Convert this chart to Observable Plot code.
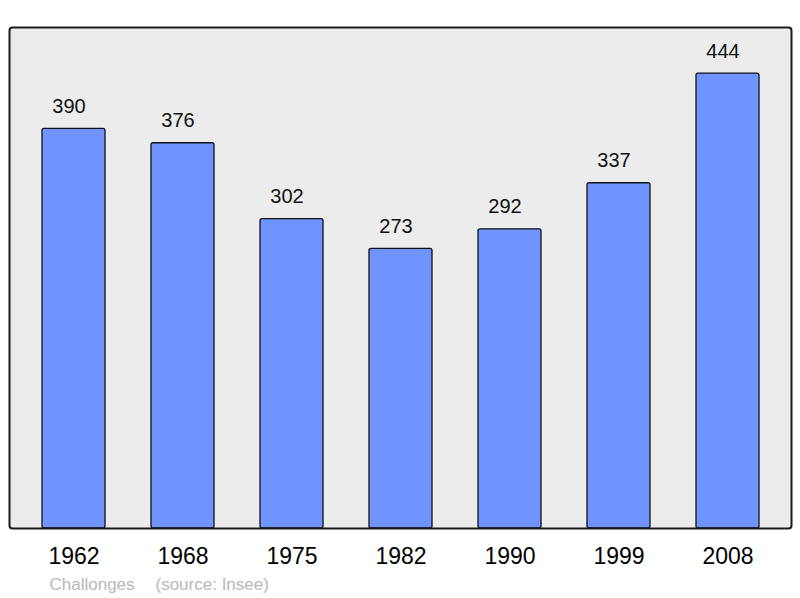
<!DOCTYPE html>
<html>
<head>
<meta charset="utf-8">
<script src="https://cdn.jsdelivr.net/npm/d3@7"></script>
<script src="https://cdn.jsdelivr.net/npm/@observablehq/plot@0.6"></script>
<style>
  html, body { margin: 0; padding: 0; background: #ffffff; }
</style>
</head>
<body>
<div id="chart"></div>
<script>
const years = ["1962", "1968", "1975", "1982", "1990", "1999", "2008"];
const population = [390, 376, 302, 273, 292, 337, 444];
const commune = "Challonges";
const source = "(source: Insee)";

const data = years.map((year, i) => ({ year, pop: population[i] }));

const chart = Plot.plot({
  width: 800,
  height: 598,
  marginTop: 27,
  marginBottom: 70,
  marginLeft: 9,
  marginRight: 9,
  style: { fontFamily: "'Liberation Sans', Arial, sans-serif", background: "#ffffff", color: "#000" },
  x: { domain: years, paddingInner: 0.424, paddingOuter: 0.2855, align: 0.5, label: null },
  y: { domain: [0, 489], axis: null },
  marks: [
    Plot.frame({ fill: "#ececec", stroke: "none", rx: 3 }),
    Plot.barY(data, { x: "year", y: "pop", fill: "#7094ff", stroke: "#111", strokeWidth: 1.3, rx: 2 }),
    Plot.text(data, { x: "year", y: "pop", text: d => String(d.pop), dx: -5, dy: -22.5, fontSize: 20, fill: "#111", lineAnchor: "middle" }),
    Plot.frame({ stroke: "#1a1a1a", strokeWidth: 2, rx: 3 }),
    Plot.axisX({ tickSize: 0, tickPadding: 19, fontSize: 23, label: null, fill: "#000" }),
    Plot.text([commune], { frameAnchor: "bottom-left", dx: 40, dy: 56, text: d => d, textAnchor: "start", lineAnchor: "middle", fontSize: 17, fill: "#b8b8b8" }),
    Plot.text([source], { frameAnchor: "bottom-left", dx: 146, dy: 56, text: d => d, textAnchor: "start", lineAnchor: "middle", fontSize: 17, fill: "#b8b8b8" })
  ]
});
document.getElementById("chart").appendChild(chart);
</script>
</body>
</html>
